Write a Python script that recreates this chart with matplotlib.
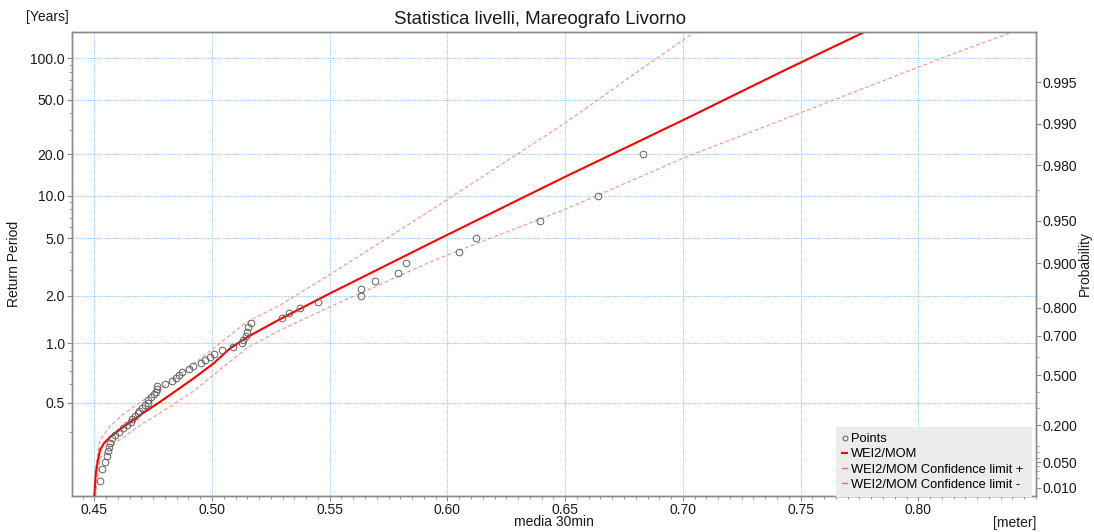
import numpy as np
import matplotlib
matplotlib.use("Agg")
import matplotlib.pyplot as plt
from matplotlib.ticker import FixedLocator, FixedFormatter
from matplotlib.lines import Line2D

plt.rcParams['font.family'] = ['Liberation Sans', 'DejaVu Sans']

RATE = 3.0  # events per year behind the return-period axis

# ---- data ----
point_level = [0.6832, 0.6638, 0.6393, 0.6123, 0.6051, 0.5825, 0.5791, 0.5691, 0.5633, 0.5633,
               0.5449, 0.5375, 0.5326, 0.5297, 0.5164, 0.5154, 0.5147, 0.5144, 0.5132, 0.5126,
               0.5090, 0.5043, 0.5009, 0.4992, 0.4970, 0.4953, 0.4919, 0.4902, 0.4873, 0.4861,
               0.4848, 0.4830, 0.4800, 0.4768, 0.4765, 0.4760, 0.4754, 0.4741, 0.4730, 0.4726,
               0.4715, 0.4701, 0.4691, 0.4684, 0.4673, 0.4660, 0.4654, 0.4639, 0.4624, 0.4605,
               0.4588, 0.4575, 0.4567, 0.4564, 0.4560, 0.4556, 0.4545, 0.4533, 0.4526]
point_return_period = [20.000, 10.000, 6.667, 5.000, 4.000, 3.333, 2.857, 2.500, 2.222, 2.000,
                       1.818, 1.667, 1.538, 1.429, 1.333, 1.250, 1.176, 1.111, 1.053, 1.000,
                       0.952, 0.909, 0.870, 0.833, 0.800, 0.769, 0.741, 0.714, 0.690, 0.667,
                       0.645, 0.625, 0.606, 0.588, 0.571, 0.556, 0.541, 0.526, 0.513, 0.500,
                       0.488, 0.476, 0.465, 0.455, 0.444, 0.435, 0.426, 0.417, 0.408, 0.400,
                       0.392, 0.385, 0.377, 0.370, 0.364, 0.357, 0.351, 0.345, 0.339]

fit_level = [0.4500, 0.4503, 0.4507, 0.4514, 0.4524, 0.4541, 0.4567, 0.4623, 0.4708, 0.4779,
             0.4921, 0.5006, 0.5076, 0.5147, 0.5289, 0.5501, 0.5955, 0.6500, 0.7002, 0.7434,
             0.7774]
fit_return_period = [0.3350, 0.3374, 0.3431, 0.3507, 0.3647, 0.3758, 0.3879, 0.4119, 0.4567,
                     0.5028, 0.6414, 0.7677, 0.9327, 1.084, 1.409, 2.077, 4.854, 13.75, 35.5,
                     82.1, 156.4]

upper_level = [0.4500, 0.4507, 0.4524, 0.4567, 0.4623, 0.4708, 0.4779, 0.4921, 0.5147, 0.5289,
               0.5501, 0.5955, 0.6500, 0.6818, 0.7052]
upper_return_period = [0.3366, 0.3481, 0.3813, 0.4139, 0.4519, 0.5109, 0.5704, 0.7609, 1.349, 1.735,
                       2.789, 8.411, 33.79, 82.1, 156.4]

lower_level = [0.4505, 0.4524, 0.4567, 0.4623, 0.4708, 0.4779, 0.4921, 0.5147, 0.5289, 0.5501,
               0.5955, 0.6500, 0.7002, 0.8135, 0.8404]
lower_return_period = [0.3350, 0.3547, 0.3707, 0.3872, 0.4224, 0.4557, 0.5584, 0.9363, 1.201, 1.692,
                       3.563, 8.022, 18.75, 105.8, 156.4]

rp_ticks = [0.5, 1.0, 2.0, 5.0, 10.0, 20.0, 50.0, 100.0]
rp_tick_labels = ['0.5', '1.0', '2.0', '5.0', '10.0', '20.0', '50.0', '100.0']
rp_minor = [0.4, 0.6, 0.7, 0.8, 0.9, 3, 4, 6, 7, 8, 9, 30, 40, 60, 70, 80, 90]
prob_ticks = [0.010, 0.050, 0.200, 0.500, 0.700, 0.800, 0.900, 0.950, 0.980, 0.990, 0.995]
prob_tick_labels = ['0.010', '0.050', '0.200', '0.500', '0.700', '0.800', '0.900',
                    '0.950', '0.980', '0.990', '0.995']
prob_minor = [0.02, 0.03, 0.04, 0.06, 0.08, 0.1, 0.3, 0.4, 0.6, 0.97]
x_ticks = [0.45, 0.50, 0.55, 0.60, 0.65, 0.70, 0.75, 0.80]
x_tick_labels = ['0.45', '0.50', '0.55', '0.60', '0.65', '0.70', '0.75', '0.80']


# ---- Gumbel-type scales ----
def t_to_g(t):
    t = np.asarray(t, dtype=float)
    p = 1.0 - 1.0 / (RATE * np.maximum(t, 1e-9))
    p = np.clip(p, 1e-300, 1 - 1e-16)
    return -np.log(-np.log(p))


def g_to_t(g):
    g = np.asarray(g, dtype=float)
    q = -np.expm1(-np.exp(-g))
    return 1.0 / (RATE * np.maximum(q, 1e-300))


def p_to_g(p):
    p = np.clip(np.asarray(p, dtype=float), 1e-300, 1 - 1e-16)
    return -np.log(-np.log(p))


def g_to_p(g):
    return np.exp(-np.exp(-np.asarray(g, dtype=float)))


W, H = 1094, 532
fig = plt.figure(figsize=(W / 100, H / 100), dpi=100)
ax = fig.add_axes([71.7 / W, 1 - 496 / H, (1036 - 71.7) / W, (496 - 31.7) / H])
ax.set_yscale('function', functions=(t_to_g, g_to_t))
ylim = (0.3350, 156.4)
ax.set_ylim(*ylim)
ax.set_xlim(0.4404, 0.8500)

grid_col = '#8fc8ff'
ax.set_axisbelow(True)

conf_col = '#f29a9a'
ax.plot(upper_level, upper_return_period, color=conf_col, lw=0.9, dashes=(3, 2), zorder=2)
ax.plot(lower_level, lower_return_period, color=conf_col, lw=0.9, dashes=(3, 2), zorder=2)
ax.plot(fit_level, fit_return_period, color='#ff0000', lw=1.5, zorder=3)
ax.plot(point_level, point_return_period, linestyle='none', marker='o', markersize=4.8,
        markerfacecolor='none', markeredgecolor='#606060', markeredgewidth=0.7, zorder=4)

ax.yaxis.set_major_locator(FixedLocator(rp_ticks))
ax.yaxis.set_major_formatter(FixedFormatter(rp_tick_labels))
ax.yaxis.set_minor_locator(FixedLocator(rp_minor))
ax.xaxis.set_major_locator(FixedLocator(x_ticks))
ax.xaxis.set_major_formatter(FixedFormatter(x_tick_labels))
ax.xaxis.set_minor_locator(FixedLocator(np.arange(0.445, 0.851, 0.005)))

ax.grid(True, which='major', color=grid_col, linestyle=(0, (1, 1)), linewidth=0.8)

ax2 = ax.twinx()
ax2.set_yscale('function', functions=(p_to_g, g_to_p))
ax2.set_ylim(1 - 1 / (RATE * ylim[0]), 1 - 1 / (RATE * ylim[1]))
ax2.yaxis.set_major_locator(FixedLocator(prob_ticks))
ax2.yaxis.set_major_formatter(FixedFormatter(prob_tick_labels))
ax2.yaxis.set_minor_locator(FixedLocator(prob_minor))

spine_col = '#8c8c8c'
for a in (ax, ax2):
    for s in a.spines.values():
        s.set_color(spine_col)
        s.set_linewidth(1.0)
    a.tick_params(which='major', length=3.5, width=0.8, color=spine_col, labelsize=10,
                  labelcolor='#1a1a1a', pad=1.5)
    a.tick_params(which='minor', length=2.5, width=0.6, color=spine_col)

fig.text(540 / W, 1 - 19 / H, 'Statistica livelli, Mareografo Livorno', ha='center',
         va='center', fontsize=13.4, color='#1a1a1a')
fig.text(47.5 / W, 1 - 17 / H, '[Years]', ha='center', va='center', fontsize=10, color='#1a1a1a')
fig.text(14 / W, 1 - 264 / H, 'Return Period', rotation=90, ha='center', va='center',
         fontsize=10, color='#1a1a1a')
fig.text(1085 / W, 1 - 264 / H, 'Probability', rotation=90, ha='center', va='center',
         fontsize=10, color='#1a1a1a')
fig.text(554 / W, 1 - 522 / H, 'media 30min', ha='center', va='center', fontsize=10,
         color='#1a1a1a')
fig.text(1036 / W, 1 - 523 / H, '[meter]', ha='right', va='center', fontsize=10,
         color='#1a1a1a')

handles = [
    Line2D([], [], linestyle='none', marker='o', markersize=3.5, markerfacecolor='none',
           markeredgecolor='#606060', markeredgewidth=0.7),
    Line2D([], [], color='#ff0000', lw=1.5),
    Line2D([], [], color='#f07070', lw=1.0),
    Line2D([], [], color='#f07070', lw=1.0),
]
labels = ['Points', 'WEI2/MOM', 'WEI2/MOM Confidence limit +', 'WEI2/MOM Confidence limit -']
x0 = (835.7 - 71.7) / (1036 - 71.7)
y0 = (496 - 426.7) / (496 - 31.7)
leg = ax2.legend(handles, labels, loc='upper left', bbox_to_anchor=(x0, 0.0, 0.2032, y0),
                 mode='expand', fontsize=9.3, frameon=True, fancybox=False, framealpha=1,
                 facecolor='#ececec', edgecolor='none', handlelength=0.4, handletextpad=0.3,
                 borderaxespad=0.0, borderpad=0.5, labelspacing=0.25)
leg.get_frame().set_linewidth(0)

fig.savefig('out.png', dpi=100)
